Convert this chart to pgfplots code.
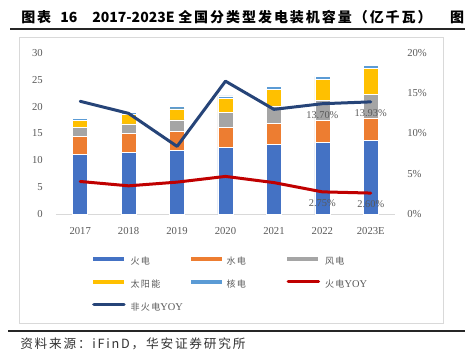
\documentclass[border=0pt]{standalone}
\usepackage{pgfplots}
\pgfplotsset{compat=1.18}
\usepackage{fontspec}
\setmainfont{Liberation Serif}
\newfontfamily\cjk{Noto Sans CJK SC}
\newfontfamily\cjktitle{Noto Sans CJK SC}[LetterSpace=14]
\newfontfamily\cjksrc{Noto Sans CJK SC}[LetterSpace=14]
\newfontfamily\cjkl{Noto Sans CJK SC}[LetterSpace=14]
\definecolor{cThermal}{HTML}{4472C4}
\definecolor{cHydro}{HTML}{ED7D31}
\definecolor{cWind}{HTML}{A5A5A5}
\definecolor{cSolar}{HTML}{FFC000}
\definecolor{cNuke}{HTML}{5B9BD5}
\definecolor{cRed}{HTML}{C00000}
\definecolor{cNavy}{HTML}{264478}
\definecolor{cText}{HTML}{595959}
\definecolor{cBox}{HTML}{D9D9D9}
\pgfplotsset{
  barleg/.style={legend image code/.code={\fill[##1, draw=none] (0pt,1.1pt) rectangle (23.25pt,4.1pt);}},
  lineleg/.style={legend image code/.code={\draw[##1, line cap=round] (0.8pt,2.6pt) -- (23.5pt,2.6pt);}},
}
\newcommand{\legtxt}[2]{\makebox[45pt][l]{{\cjkl\fontsize{6.8}{8}\selectfont #1}#2}}
\begin{document}
\begin{tikzpicture}[x=0.75pt,y=-0.75pt]
\useasboundingbox (0,0) rectangle (465,351);
\clip (0,0) rectangle (465,351);
\fill[white] (0,0) rectangle (465,351);
\coordinate (axpos) at (56,214);
\draw[black!85, line width=0.9pt] (10,29) -- (470,29);
\draw[cBox, line width=0.75pt] (19.5,37.5) rectangle (443,323);
\draw[black!85, line width=0.9pt] (8,331) -- (470,331);
\node[anchor=west, inner sep=0pt] at (21,17) {\cjktitle\bfseries\fontsize{10.5}{12}\selectfont 图表};
\node[anchor=west, inner sep=0pt] at (60,17) {\cjk\bfseries\fontsize{10.5}{12}\selectfont 16};
\node[anchor=west, inner sep=0pt] at (92,17) {\cjk\bfseries\fontsize{10.5}{12}\selectfont 2017-2023E};
\node[anchor=west, inner sep=0pt] at (178,17) {\cjktitle\bfseries\fontsize{10.5}{12}\selectfont 全国分类型发电装机容量（亿千瓦）};
\node[anchor=east, inner sep=0pt] at (464.5,17) {\cjk\bfseries\fontsize{10.5}{12}\selectfont 图};
\node[anchor=west, inner sep=0pt, text=black!80] at (20,344) {\cjksrc\fontsize{9.5}{11}\selectfont 资料来源：iFinD，华安证券研究所};

\begin{axis}[
  at={(axpos)}, anchor=south west,
  scale only axis, width=254.25pt, height=120.75pt,
  ybar stacked, bar width=11.25pt,
  xmin=-0.5, xmax=6.5, ymin=0, ymax=30,
  xtick={0,1,2,3,4,5,6},
  xticklabels={2017,2018,2019,2020,2021,2022,2023E},
  ytick={0,5,10,15,20,25,30},
  axis x line*=bottom, axis y line*=left,
  x axis line style={cBox, line width=0.75pt},
  y axis line style={draw=none},
  major tick length=0pt,
  tick style={draw=none},
  /pgf/number format/assume math mode=true,
  tick label style={font=\fontsize{8}{9}\selectfont, text=cText, inner sep=0pt},
  yticklabel style={anchor=east},
  xticklabel style={anchor=north},
  yticklabel shift=9.75pt,
  xticklabel shift=9.5pt,
  clip=false,
  legend columns=3,
  legend cell align=left,
  legend style={
    at={(0.106,-0.263)}, anchor=north west,
    draw=none, fill=none, inner sep=0pt,
    nodes={inner sep=0pt, text=cText},
    font=\fontsize{7.8}{9}\selectfont,
    row sep=9.5pt,
    /tikz/every odd column/.style={column sep=3.75pt},
    /tikz/every even column/.style={column sep=0pt},
  },
]
\addplot[fill=cThermal, draw=white, line width=0.4pt, barleg] coordinates {(0,11.06) (1,11.44) (2,11.90) (3,12.45) (4,12.97) (5,13.32) (6,13.67)};
\addlegendentry{\legtxt{火电}{}}
\addplot[fill=cHydro, draw=white, line width=0.4pt, barleg] coordinates {(0,3.44) (1,3.52) (2,3.56) (3,3.70) (4,3.91) (5,4.14) (6,4.25)};
\addlegendentry{\legtxt{水电}{}}
\addplot[fill=cWind, draw=white, line width=0.4pt, barleg] coordinates {(0,1.64) (1,1.84) (2,2.10) (3,2.82) (4,3.28) (5,3.65) (6,4.30)};
\addlegendentry{\legtxt{风电}{}}
\addplot[fill=cSolar, draw=white, line width=0.4pt, barleg] coordinates {(0,1.30) (1,1.74) (2,2.04) (3,2.53) (4,3.07) (5,3.93) (6,4.95)};
\addlegendentry{\legtxt{太阳能}{}}
\addplot[fill=cNuke, draw=white, line width=0.4pt, barleg] coordinates {(0,0.36) (1,0.45) (2,0.49) (3,0.50) (4,0.53) (5,0.56) (6,0.58)};
\addlegendentry{\legtxt{核电}{}}
\addlegendimage{cRed, line width=2.4pt, lineleg}
\addlegendentry{\legtxt{火电}{YOY}}
\addlegendimage{cNavy, line width=2.4pt, lineleg}
\addlegendentry{\legtxt{非火电}{YOY}}
\end{axis}

\begin{axis}[
  at={(axpos)}, anchor=south west,
  scale only axis, width=254.25pt, height=120.75pt,
  xmin=-0.5, xmax=6.5, ymin=0, ymax=20,
  axis y line*=right, axis x line=none,
  y axis line style={draw=none},
  ytick={0,5,10,15,20},
  yticklabel={\pgfmathprintnumber{\tick}\%},
  tick style={draw=none}, major tick length=0pt,
  /pgf/number format/assume math mode=true,
  tick label style={font=\fontsize{8}{9}\selectfont, text=cText, inner sep=0pt},
  yticklabel style={anchor=west},
  yticklabel shift=9pt,
  clip=false,
]
\addplot[cRed, line width=2.25pt, line join=round, line cap=round,
  nodes near coords, point meta=explicit symbolic,
  every node near coord/.style={anchor=north, yshift=-4.5pt, inner sep=0pt, text=cText, font=\fontsize{7.8}{9}\selectfont}]
  coordinates {(0,4.04) [] (1,3.50) [] (2,3.96) [] (3,4.67) [] (4,3.90) [] (5,2.75) [2.75\%] (6,2.60) [2.60\%]};
\addplot[cNavy, line width=2.25pt, line join=round, line cap=round,
  nodes near coords, point meta=explicit symbolic,
  every node near coord/.style={anchor=north, yshift=-4.5pt, inner sep=0pt, text=cText, font=\fontsize{7.8}{9}\selectfont}]
  coordinates {(0,14.0) [] (1,12.5) [] (2,8.4) [] (3,16.5) [] (4,13.0) [] (5,13.70) [13.70\%] (6,13.93) [13.93\%]};
\end{axis}
\end{tikzpicture}
\end{document}
